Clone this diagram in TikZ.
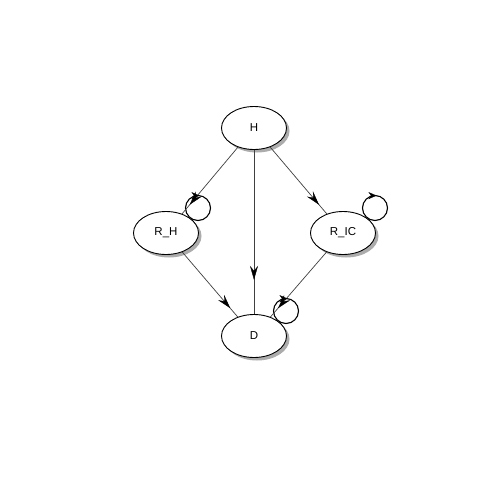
\documentclass[tikz,border=0pt]{standalone}
\usepackage{fontspec}
\setmainfont{Liberation Sans}
\usetikzlibrary{shapes.geometric,shadows,arrows.meta,calc}
\pgfdeclarelayer{background}
\pgfdeclarelayer{canvas}
\pgfsetlayers{canvas,background,main}
\tikzset{
  state/.style={ellipse, draw=black, line width=0.9pt, fill=white,
    minimum width=65pt, minimum height=43pt, inner sep=0pt,
    font=\fontsize{11.5}{13}\selectfont,
    drop shadow={shadow xshift=3pt, shadow yshift=-3pt, fill=gray!65, opacity=1}},
  link/.style={draw=black!75, line width=0.7pt},
  head/.style={-{Stealth[length=14pt, width=8pt, inset=5pt]}, draw=black, fill=black, line width=0.4pt},
  loopline/.style={draw=black, line width=1.1pt},
  loophead/.style={-{Stealth[length=8pt, width=7pt, inset=2.5pt]}, draw=black, fill=black, line width=0.4pt}
}
\newcommand{\flow}[2]{%
  \draw[link] (#1) -- (#2);
  \draw[head] ($(#1.center)!0.69!(#2.center)$) -- ($(#1.center)!0.73!(#2.center)$);
}
\newcommand{\selfloop}[1]{%
  \coordinate (#1-loop) at ($(#1.center)+(32,-25)$);
  \begin{pgfonlayer}{background}
    \draw[loopline] (#1-loop) circle[radius=12.5];
  \end{pgfonlayer}
  \draw[loophead] ($(#1-loop)+(-4,-12.4)$) -- ($(#1-loop)+(1.5,-12.4)$);
}
\begin{document}
\begin{tikzpicture}[x=1pt, y=-1pt]
  \begin{pgfonlayer}{canvas}
    \fill[white] (0,0) rectangle (480,480);
  \end{pgfonlayer}
  \useasboundingbox (0,0) rectangle (480,480);
  \node[state] (H)   at (254,128) {H};
  \node[state] (RH)  at (166,233) {R\_H};
  \node[state] (RIC) at (343,233) {R\_IC};
  \node[state] (D)   at (254,336) {D};
  \flow{H}{RH}
  \flow{H}{D}
  \flow{H}{RIC}
  \flow{RH}{D}
  \flow{RIC}{D}
  \selfloop{RH}
  \selfloop{RIC}
  \selfloop{D}
\end{tikzpicture}
\end{document}
